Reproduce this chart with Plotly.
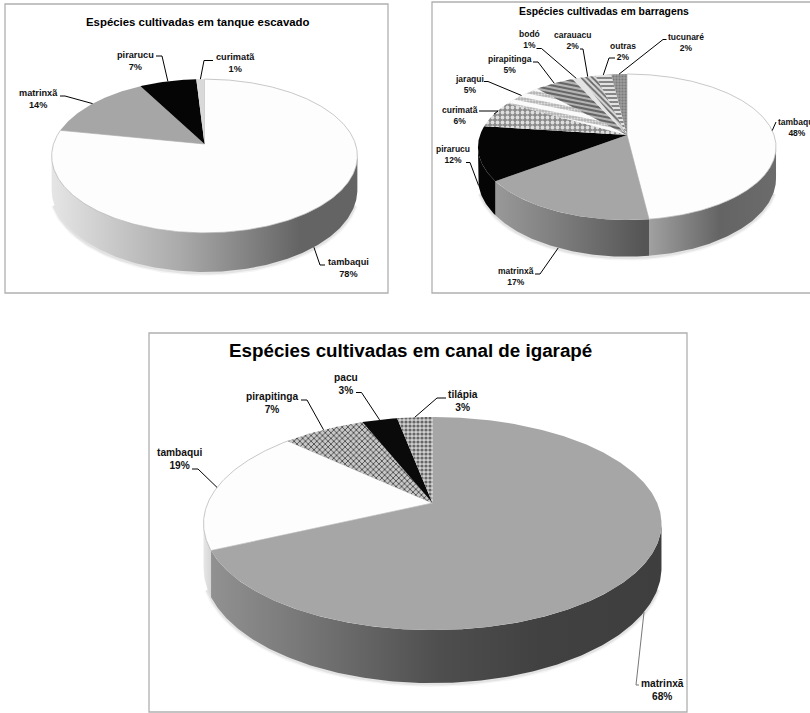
import math
import plotly.graph_objects as go

# --- values of each pie, clockwise from twelve o'clock ---
tanque_especies = ["tambaqui", "matrinxã", "pirarucu", "curimatã"]
tanque_valores = [78, 14, 7, 1]

barragem_especies = ["tambaqui", "matrinxã", "pirarucu", "curimatã", "jaraqui",
                     "pirapitinga", "bodó", "carauacu", "outras", "tucunaré"]
barragem_valores = [48, 17, 12, 6, 5, 5, 1, 2, 2, 2]

canal_especies = ["matrinxã", "tambaqui", "pirapitinga", "pacu", "tilápia"]
canal_valores = [68, 19, 7, 3, 3]

FONT = "Liberation Sans, Arial, sans-serif"
BLACK = "#000000"

# Slice styles: "c" flat colour, "p" pattern, "bands" slanted stripes, "g" wall gradient
WHITE = {"c": "#FDFDFD", "edge": "#B0B0B0"}
GREY = {"c": "#A6A6A6"}
DARK = {"c": "#050505"}

tanque_estilo = {
    "tambaqui": {**WHITE, "g": [(50, 230), (180, 170), (300, 100), (360, 100)]},
    "matrinxã": GREY,
    "pirarucu": DARK,
    "curimatã": {"c": "#D9D9D9"},
}
barragem_estilo = {
    "tambaqui": {**WHITE, "g": [(644, 165), (720, 100), (780, 108)]},
    "matrinxã": {**GREY, "g": [(490, 155), (560, 125), (644, 85)]},
    "pirarucu": {**DARK, "wall": "#050505"},
    "curimatã": {"p": dict(shape=".", bg="#8A8A8A", fg="#DEDEDE", size=5, sol=0.45)},
    "jaraqui": {"p": dict(shape=".", bg="#B4B4B4", fg="#E0E0E0", size=3, sol=0.4),
                "bands": dict(slope=0.2, period=8.5, thick=4.5, color="#FAFAFA")},
    "pirapitinga": {"c": "#B4B4B4",
                    "bands": dict(slope=0.2, period=4.2, thick=2.1, color="#666666")},
    "bodó": {"c": "#E4E4E4"},
    "carauacu": {"p": dict(shape="\\", bg="#D8D8D8", fg="#666666", size=4, sol=0.45)},
    "outras": {"p": dict(shape="-", bg="#E2E2E2", fg="#6E6E6E", size=4, sol=0.4)},
    "tucunaré": {"p": dict(shape=".", bg="#9C9C9C", fg="#7A7A7A", size=3, sol=0.4)},
}
canal_estilo = {
    "matrinxã": {**GREY, "g": [(212, 145), (300, 120), (440, 78), (540, 65), (665, 62)]},
    "tambaqui": {**WHITE, "g": [(203, 232), (215, 205)]},
    "pirapitinga": {"p": dict(shape="x", bg="#C8C8C8", fg="#333333", size=4, sol=0.35)},
    "pacu": {"c": "#0A0A0A"},
    "tilápia": {"p": dict(shape=".", bg="#D0D0D0", fg="#666666", size=4, sol=0.5)},
}


def rgb(v):
    return f"rgb({v},{v},{v})"


class Pie3D:
    """Perspective pie: a circle sent through a homography, plus an extruded wall."""

    def __init__(self, cx, cy, a, b, k, depth):
        self.cx, self.cy, self.a, self.b, self.k, self.depth = cx, cy, a, b, k, depth

    def point(self, deg, lowered=False):
        t = math.radians(deg)
        X, Y = math.sin(t), -math.cos(t)
        w = 1 - self.k * Y
        y = self.cy + self.b * Y / w
        if lowered:
            y += self.depth / w
        return self.cx + self.a * X / w, y

    def wall_span(self):
        # The silhouette turns where cos(theta) = -k
        start = math.degrees(math.acos(-self.k))
        return start, 360 - start


def arc(start, stop):
    n = max(int(abs(stop - start) * 1.5), 2)
    return [start + (stop - start) * i / n for i in range(n + 1)]


def clip_half_plane(poly, f):
    """Sutherland-Hodgman step: keep the part of poly where f(point) >= 0."""
    out = []
    for i, p in enumerate(poly):
        q = poly[(i + 1) % len(poly)]
        fp, fq = f(p), f(q)
        if fp >= 0:
            out.append(p)
        if (fp >= 0) != (fq >= 0):
            t = fp / (fp - fq)
            out.append((p[0] + t * (q[0] - p[0]), p[1] + t * (q[1] - p[1])))
    return out


fig = go.Figure()


def draw_bands(pie, poly, band):
    # Slanted stripes cut out of a slice, measured from the pie's apex
    m = band["slope"]
    offset = lambda p: (p[1] - pie.cy) - m * (p[0] - pie.cx)
    low = min(offset(p) for p in poly)
    c = 0.0
    while c > low:
        c0, c1 = c - band["thick"], c
        piece = clip_half_plane(poly, lambda p: offset(p) - c0)
        piece = clip_half_plane(piece, lambda p: c1 - offset(p))
        if len(piece) >= 3:
            piece = piece + piece[:1]
            fig.add_trace(go.Scatter(
                x=[p[0] for p in piece], y=[p[1] for p in piece], mode="lines",
                fill="toself", fillcolor=band["color"], line=dict(width=0),
                hoverinfo="skip", showlegend=False))
        c -= band["period"]


def draw_pie(pie, names, values, styles):
    total = sum(values)
    angles = [0]
    for v in values:
        angles.append(angles[-1] + 360 * v / total)
    lo, hi = pie.wall_span()

    # soft shadow under the disc
    pts = [pie.point(d, True) for d in arc(lo + 10, hi - 10)]
    for width, alpha in ((6, 0.04), (3, 0.07)):
        fig.add_trace(go.Scatter(
            x=[p[0] for p in pts], y=[p[1] + 1 for p in pts], mode="lines",
            line=dict(color=f"rgba(0,0,0,{alpha})", width=width),
            hoverinfo="skip", showlegend=False))

    # walls first, so the top faces overlap them
    for name, s, e in zip(names, angles[:-1], angles[1:]):
        s2, e2 = max(s, lo), min(e, hi)
        if e2 <= s2:
            continue
        deg = arc(s2, e2)
        top = [pie.point(d) for d in deg]
        low = [pie.point(d, True) for d in reversed(deg)]
        poly = top + low
        style = styles[name]
        kw = dict(x=[p[0] for p in poly], y=[p[1] for p in poly], mode="lines",
                  fill="toself", line=dict(width=0), hoverinfo="skip", showlegend=False)
        if "g" in style:
            stops = style["g"]
            x0, x1 = stops[0][0], stops[-1][0]
            scale = [[(x - x0) / (x1 - x0), rgb(v)] for x, v in stops]
            kw["fillgradient"] = dict(type="horizontal", colorscale=scale, start=x0, stop=x1)
        else:
            kw["fillcolor"] = style.get("wall", "#777777")
        fig.add_trace(go.Scatter(**kw))

    # top faces
    for name, s, e in zip(names, angles[:-1], angles[1:]):
        pts = [pie.point(d) for d in arc(s, e)]
        poly = [(pie.cx, pie.cy)] + pts + [(pie.cx, pie.cy)]
        style = styles[name]
        edge = style.get("edge")
        kw = dict(x=[p[0] for p in poly], y=[p[1] for p in poly], mode="lines",
                  fill="toself", hoverinfo="skip", showlegend=False,
                  line=dict(width=0.7 if edge else 0, color=edge or "rgba(0,0,0,0)"))
        if "p" in style:
            p = style["p"]
            kw["fillcolor"] = p["bg"]
            kw["fillpattern"] = dict(shape=p["shape"], bgcolor=p["bg"], fgcolor=p["fg"],
                                     size=p["size"], solidity=p["sol"], fgopacity=1)
        else:
            kw["fillcolor"] = style["c"]
        fig.add_trace(go.Scatter(**kw))
        if "bands" in style:
            draw_bands(pie, poly[:-1], style["bands"])
    return angles, lo, hi


def draw_labels(pie, names, values, angles, lo, hi, places, size, line_color=BLACK, line_w=1):
    for i, (name, v) in enumerate(zip(names, values)):
        place = places[name]
        mid = (angles[i] + angles[i + 1]) / 2
        tip = pie.point(mid, lo < mid < hi)
        path = place["elbow"] + [tip]
        fig.add_trace(go.Scatter(
            x=[p[0] for p in path], y=[p[1] for p in path], mode="lines",
            line=dict(color=place.get("line", line_color), width=line_w),
            hoverinfo="skip", showlegend=False))
        fig.add_annotation(
            x=place["at"][0], y=place["at"][1], text=f"<b>{name}<br>{v}%</b>",
            showarrow=False, xanchor="center", yanchor="middle", align="center",
            font=dict(family=FONT, size=size, color="#111111"))


def frame(x0, y0, x1, y1):
    fig.add_shape(type="rect", x0=x0, y0=y0, x1=x1, y1=y1, layer="below",
                  line=dict(color="#B0B0B0", width=1.3), fillcolor="#FFFFFF")


def title(text, x, y, size):
    fig.add_annotation(x=x, y=y, text=f"<b>{text}</b>", showarrow=False,
                       xanchor="center", yanchor="middle",
                       font=dict(family=FONT, size=size, color="#000000"))


# --- tanque escavado ---
frame(5, 4, 388, 293)
title("Espécies cultivadas em tanque escavado", 198, 21.5, 11.4)
p1 = Pie3D(204.5, 144, 151, 75, 0.156, 33)
a, lo, hi = draw_pie(p1, tanque_especies, tanque_valores, tanque_estilo)
draw_labels(p1, tanque_especies, tanque_valores, a, lo, hi, {
    "tambaqui": {"at": (348, 268), "elbow": [(325, 265), (320, 265)]},
    "matrinxã": {"at": (38.5, 98.5), "elbow": [(60, 96), (65, 96)]},
    "pirarucu": {"at": (135, 60.5), "elbow": [(156, 56), (162, 56)]},
    "curimatã": {"at": (235.5, 63), "elbow": [(213, 60.5), (204, 60.5)]},
}, 9.2)

# --- barragens ---
frame(432, 2, 830, 293)
title("Espécies cultivadas em barragens", 603.5, 11.5, 10.4)
p2 = Pie3D(627, 135, 147, 71, 0.1645, 30.7)
a, lo, hi = draw_pie(p2, barragem_especies, barragem_valores, barragem_estilo)
draw_labels(p2, barragem_especies, barragem_valores, a, lo, hi, {
    "tambaqui": {"at": (797, 127), "elbow": [(776, 122)]},
    "matrinxã": {"at": (516, 276.5), "elbow": [(535, 274), (540, 274)]},
    "pirarucu": {"at": (453, 154.5), "elbow": [(466, 162.5), (470, 162.5)]},
    "curimatã": {"at": (460, 115), "elbow": [(479, 111), (498, 111)]},
    "jaraqui": {"at": (469, 84), "elbow": [(484, 81.5), (488, 81.5)]},
    "pirapitinga": {"at": (510, 64.5), "elbow": [(533, 62), (538, 62)]},
    "bodó": {"at": (529.5, 39.5), "elbow": [(536.5, 48.5), (541.5, 48.5)]},
    "carauacu": {"at": (572, 40.5), "elbow": [(580, 49), (583, 49)]},
    "outras": {"at": (622.5, 51), "elbow": [(615, 58), (609, 58)]},
    "tucunaré": {"at": (686, 42.5), "elbow": [(666.5, 39.5), (663, 39.5)]},
}, 8.5)

# --- canal de igarapé ---
frame(149, 333, 687, 712)
title("Espécies cultivadas em canal de igarapé", 410, 350, 18.8)
p3 = Pie3D(432.5, 503, 224.7, 102.6, 0.1925, 42.8)
a, lo, hi = draw_pie(p3, canal_especies, canal_valores, canal_estilo)
draw_labels(p3, canal_especies, canal_valores, a, lo, hi, {
    "matrinxã": {"at": (662, 689.5), "elbow": [(639, 685), (636, 685)], "line": "#777777"},
    "tambaqui": {"at": (179, 458.5), "elbow": [(192, 469), (198, 469)]},
    "pirapitinga": {"at": (272, 402.5), "elbow": [(301, 400), (307, 400)]},
    "pacu": {"at": (346, 383.5), "elbow": [(356, 392.5), (361.5, 392.5)]},
    "tilápia": {"at": (463, 401), "elbow": [(446, 398), (437, 398)]},
}, 10.2)

fig.update_layout(
    width=810, height=713, margin=dict(l=0, r=0, t=0, b=0),
    paper_bgcolor="#FFFFFF", plot_bgcolor="#FFFFFF", showlegend=False,
    xaxis=dict(range=[0, 810], visible=False, fixedrange=True),
    yaxis=dict(range=[713, 0], visible=False, fixedrange=True),
)

fig.write_html("out.html")
